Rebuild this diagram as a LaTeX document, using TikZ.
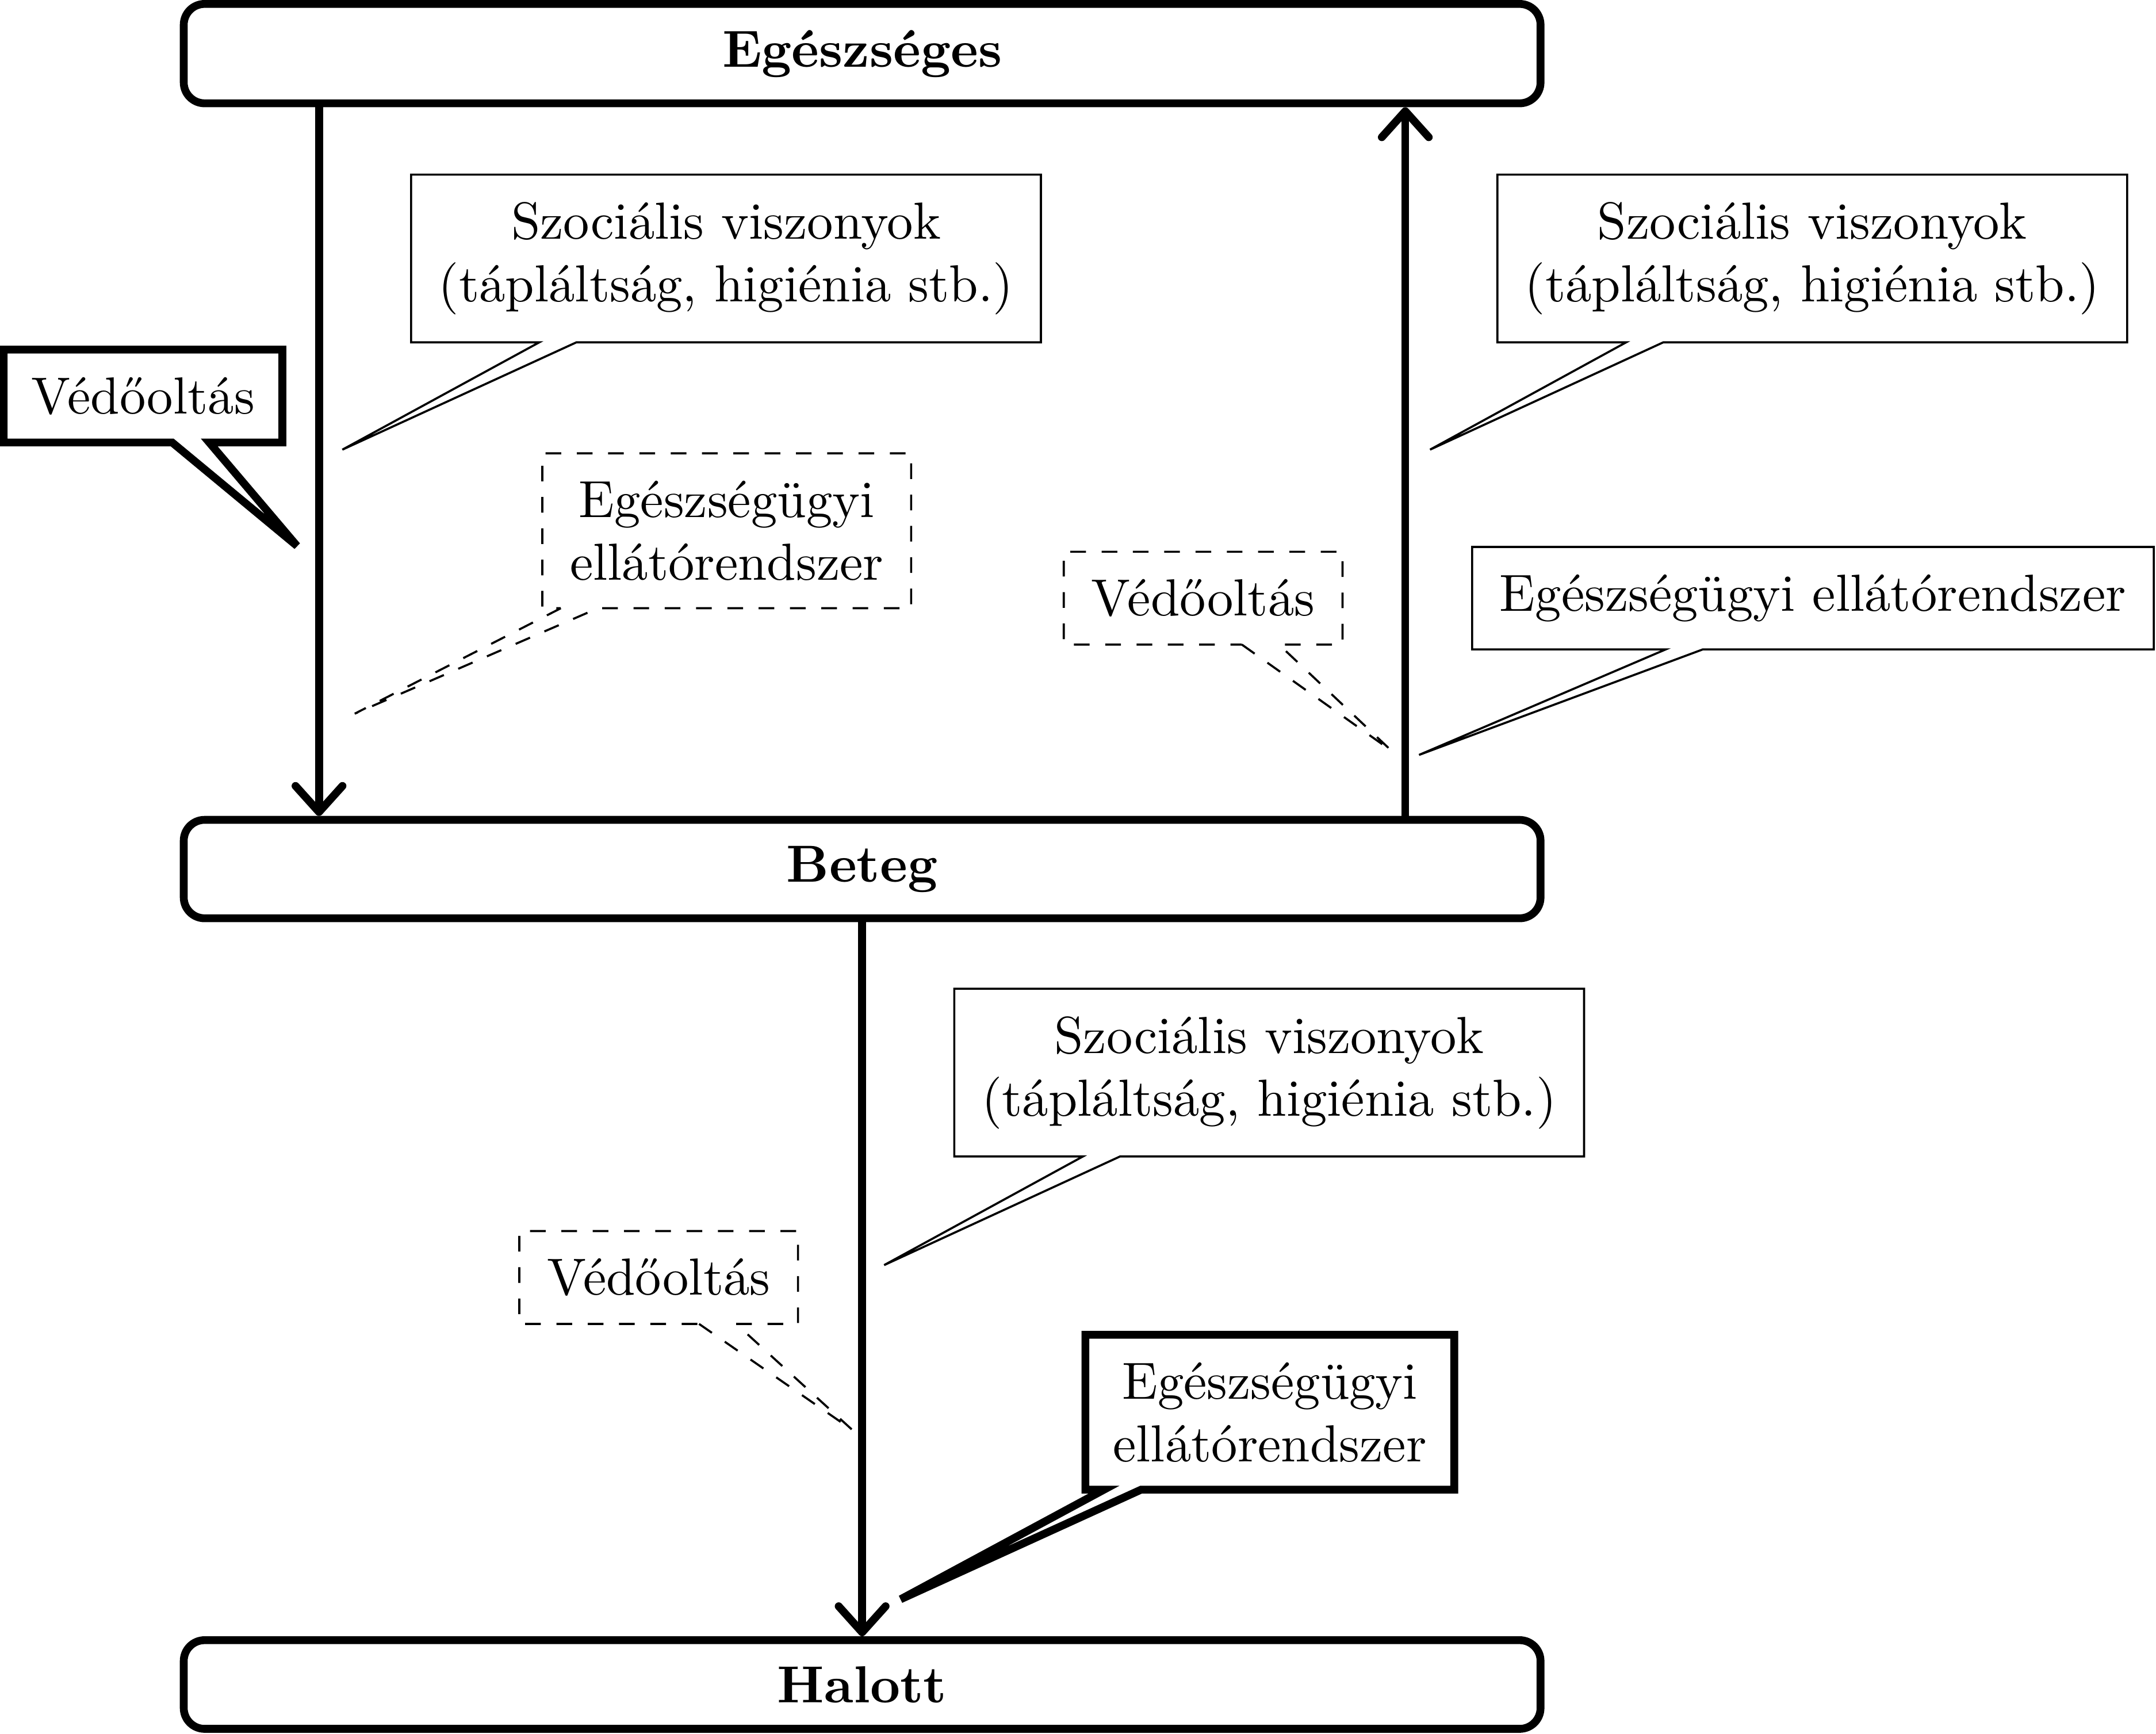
\documentclass[tikz,border=0pt]{standalone}
\usetikzlibrary{shapes.callouts,arrows.meta}
\begin{document}
\begin{tikzpicture}[x=0.2636pt,y=-0.2636pt,
  state/.style={draw, line width=1.5pt, rounded corners=4pt, minimum width=260.1pt, inner ysep=5pt, font=\bfseries},
  arr/.style={line width=1.5pt, -{Straight Barb[round,length=5pt,width=9pt]}},
  co/.style={rectangle callout, draw, inner sep=5.3pt, align=center, line width=0.4pt},
  cothick/.style={co, line width=1.5pt},
  codash/.style={co, dashed},
]
\useasboundingbox (0,0) rectangle (1568,1261);
\node[state] (E) at (627,39) {Egészséges};
\node[state] (B) at (627,632) {Beteg};
\node[state] (H) at (627,1225) {Halott};
\coordinate (xl) at (232,0);
\coordinate (xr) at (1022,0);
\draw[arr] (E.south -| xl) -- (B.north -| xl);
\draw[arr] (B.north -| xr) -- (E.south -| xr);
\draw[arr] (B.south) -- (H.north);
\node[cothick, callout absolute pointer={(216,397)}] (v1) at (104,288) {Védőoltás};
\node[co, callout absolute pointer={(249,327)}] (s1) at (528,188) {Szociális viszonyok\\(tápláltság, higiénia stb.)};
\node[codash, callout absolute pointer={(258,519)}] (e1) at (528.5,386) {Egészségügyi\\ellátórendszer};
\node[co, callout absolute pointer={(1040,327)}] (s2) at (1318,188) {Szociális viszonyok\\(tápláltság, higiénia stb.)};
\node[codash, callout absolute pointer={(1012,546)}] (v2) at (875,435) {Védőoltás};
\node[co, callout absolute pointer={(1032,549)}] (e2) at (1318.5,435) {Egészségügyi ellátórendszer};
\node[co, callout absolute pointer={(643,920)}] (s3) at (923,780) {Szociális viszonyok\\(tápláltság, higiénia stb.)};
\node[codash, callout absolute pointer={(620,1040)}] (v3) at (479,929) {Védőoltás};
\node[cothick, callout absolute pointer={(655,1163)}] (e3) at (923.5,1027) {Egészségügyi\\ellátórendszer};
\end{tikzpicture}
\end{document}
